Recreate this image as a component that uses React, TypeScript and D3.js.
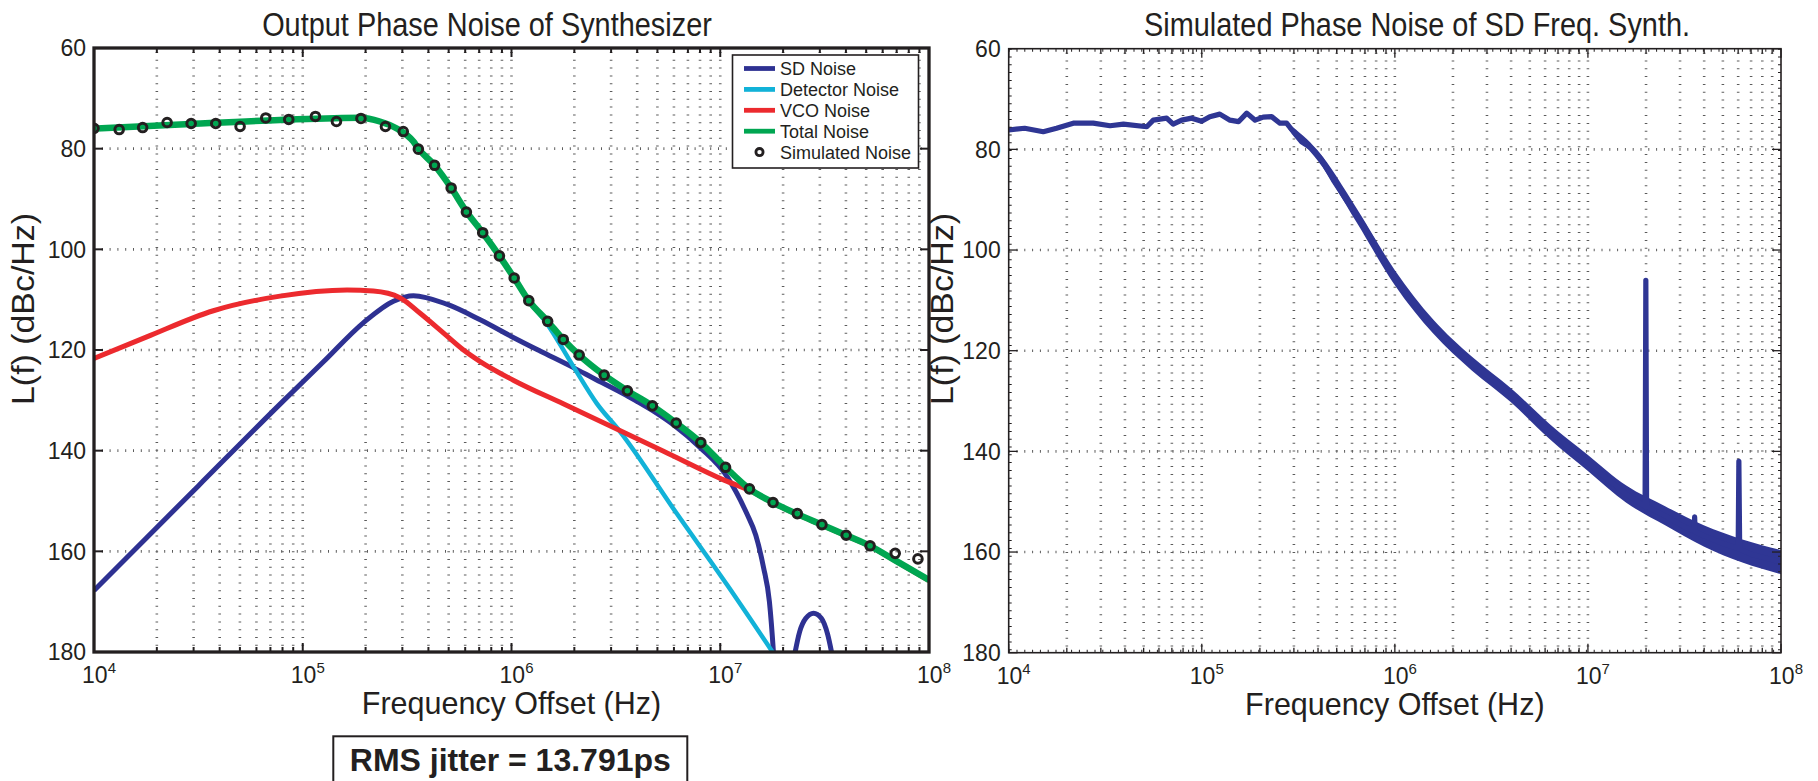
import React from "react";
import * as d3 from "d3";

// ---------- axes ----------
const DECADES = [1e4, 1e5, 1e6, 1e7, 1e8];
const DECADE_EXP = ["4", "5", "6", "7", "8"];
const MINOR_MULT = [2, 3, 4, 5, 6, 7, 8, 9];
const Y_TICKS = [60, 80, 100, 120, 140, 160, 180];

// ---------- left panel: Output Phase Noise of Synthesizer ----------
const totalFreq = [1e4, 2.58e4, 7.78e4, 1.9e5, 2.34e5, 2.82e5, 3.39e5, 3.58e5, 4.28e5, 5.14e5, 6.08e5, 7.28e5, 8.75e5, 1.03e6, 1.21e6, 1.49e6, 1.77e6, 2.11e6, 2.78e6, 3.59e6, 4.73e6, 6.15e6, 8.07e6, 1.06e7, 1.38e7, 1.79e7, 2.34e7, 3.07e7, 4.01e7, 5.22e7, 6.89e7, 1e8];
const totalNoise = [76.0, 75.2, 74.3, 73.85, 74.6, 76.0, 78.6, 80.0, 83.3, 87.8, 92.5, 96.7, 101.3, 105.7, 110.2, 114.3, 117.9, 121.0, 125.0, 128.1, 131.1, 134.5, 138.4, 143.3, 147.6, 150.3, 152.6, 154.7, 156.8, 158.9, 161.8, 165.7];

const detFreq = [1e4, 2.58e4, 7.78e4, 1.9e5, 2.34e5, 2.82e5, 3.39e5, 3.58e5, 4.28e5, 5.14e5, 6.08e5, 7.28e5, 8.75e5, 1.03e6, 1.21e6, 1.47e6, 1.98e6, 2.56e6, 3.31e6, 6.19e6, 1.08e7, 1.8e7];
const detNoise = [76.0, 75.2, 74.3, 73.85, 74.6, 76.0, 78.6, 80.0, 83.3, 87.8, 92.5, 96.7, 101.3, 105.7, 110.2, 114.6, 123.3, 130.6, 136.2, 152.5, 166.7, 180.3];

const vcoFreq = [1e4, 1.79e4, 3.73e4, 7.78e4, 1.63e5, 2.18e5, 2.92e5, 3.65e5, 4.9e5, 5.89e5, 7.08e5, 1.02e6, 1.77e6, 3.08e6, 5.35e6, 1.08e7, 1.4e7, 1.79e7, 2.34e7, 3.07e7, 4.01e7, 5.22e7, 6.89e7, 1e8];
const vcoNoise = [121.7, 117.4, 112.2, 109.3, 108.1, 108.3, 109.6, 112.7, 117.2, 120.0, 122.3, 126.0, 130.7, 135.4, 140.1, 146.1, 148.0, 150.4, 152.7, 154.8, 156.9, 159.0, 161.9, 165.8];

const sdFreq = [1e4, 3.16e4, 7.94e4, 1.26e5, 1.95e5, 2.72e5, 3.39e5, 4.9e5, 7.08e5, 1.02e6, 1.37e6, 1.98e6, 2.47e6, 3.55e6, 4.73e6, 6.03e6, 8.02e6, 1.08e7, 1.34e7, 1.48e7, 1.61e7, 1.72e7, 1.8e7, 1.91e7];
const sdNoise = [167.8, 147.0, 130.4, 122.3, 114.6, 110.3, 109.2, 110.9, 114.0, 117.5, 120.2, 123.5, 125.6, 129.0, 132.0, 135.0, 139.4, 145.2, 152.5, 156.8, 163.1, 170.0, 180.3, 200];
const sdLobeFreq = [2.26e7, 2.4e7, 2.57e7, 2.8e7, 3.05e7, 3.27e7, 3.45e7];
const sdLobeNoise = [181, 176, 173.3, 172.3, 173.3, 176.5, 181];

const simFreq = [1e4, 1.32e4, 1.71e4, 2.24e4, 2.92e4, 3.83e4, 5.01e4, 6.65e4, 8.57e4, 1.15e5, 1.45e5, 1.9e5, 2.49e5, 3.03e5, 3.58e5, 4.28e5, 5.14e5, 6.08e5, 7.28e5, 8.75e5, 1.03e6, 1.21e6, 1.49e6, 1.77e6, 2.11e6, 2.78e6, 3.59e6, 4.73e6, 6.15e6, 8.07e6, 1.06e7, 1.38e7, 1.79e7, 2.34e7, 3.07e7, 4.01e7, 5.22e7, 6.89e7, 8.85e7];
const simNoise = [75.96, 76.2, 75.8, 74.8, 75.0, 75.0, 75.6, 73.9, 74.2, 73.6, 74.6, 74.0, 75.6, 76.6, 80.1, 83.3, 87.8, 92.6, 96.7, 101.3, 105.7, 110.2, 114.3, 117.9, 121.0, 125.0, 128.1, 131.1, 134.5, 138.4, 143.3, 147.6, 150.3, 152.5, 154.7, 156.8, 158.9, 160.4, 161.5];

const legendLabels = ["SD Noise", "Detector Noise", "VCO Noise", "Total Noise", "Simulated Noise"];
const rmsText = "RMS jitter = 13.791ps";

// ---------- right panel: Simulated Phase Noise of SD Freq. Synth. ----------
const traceFreq = [1e4, 1.21e4, 1.51e4, 1.77e4, 2.16e4, 2.74e4, 3.35e4, 3.93e4, 5.19e4, 5.61e4, 6.58e4, 7.11e4, 7.87e4, 8.87e4, 9.98e4, 1.1e5, 1.24e5, 1.4e5, 1.55e5, 1.71e5, 1.89e5, 2.08e5, 2.3e5, 2.54e5, 2.75e5, 2.98e5, 3.29e5, 3.71e5, 4.18e5, 4.8e5, 5.62e5, 6.59e5, 7.73e5, 9.08e5, 1.1e6, 1.35e6, 1.64e6, 2.09e6, 2.55e6, 3.24e6, 4.17e6, 5.62e6, 7.59e6, 1e7, 1.26e7, 1.58e7, 1.95e7, 1.977e7, 1.995e7, 2.013e7, 2.51e7, 3.16e7, 3.55e7, 3.57e7, 3.59e7, 3.98e7, 5.01e7, 6.0e7, 6.05e7, 6.11e7, 7.08e7, 8.91e7, 1e8];
const traceNoise = [76.15, 75.8, 76.5, 75.8, 74.8, 74.8, 75.3, 75.0, 75.5, 74.2, 73.8, 75.0, 74.2, 73.8, 74.4, 73.5, 73.0, 74.2, 74.5, 72.8, 74.2, 73.6, 73.5, 74.8, 74.8, 76.5, 78.5, 79.8, 82.1, 86.1, 90.1, 94.0, 98.3, 103.3, 107.9, 111.9, 115.9, 119.9, 122.8, 125.8, 129.5, 134.5, 138.5, 142.3, 145.5, 148.5, 150.8, 151.0, 106.0, 151.0, 152.8, 155.0, 155.8, 153.0, 155.9, 156.8, 158.3, 159.3, 142.0, 159.4, 160.5, 161.5, 162.0];
const bandFreq = [2.82e5, 3.98e5, 6.31e5, 1e6, 1.58e6, 2.51e6, 3.98e6, 6.31e6, 1e7, 1.58e7, 2.51e7, 3.98e7, 6.31e7, 1e8];
const bandUpper = [74.9, 80.2, 91.6, 104.0, 113.8, 121.2, 127.4, 134.5, 140.7, 146.8, 150.9, 154.7, 157.5, 159.6];
const bandLower = [76.1, 82.2, 94.4, 107.0, 116.6, 124.0, 130.2, 137.5, 143.9, 150.2, 154.7, 158.9, 162.1, 164.4];

// ---------- styling ----------
const INK = "#231f20";
const FONT = "'Liberation Sans', Arial, Helvetica, sans-serif";
const C_SD = "#2e3192";
const C_DET = "#12b2d8";
const C_VCO = "#ec2a2e";
const C_TOT = "#00a651";
const C_TRACE = "#2f3694";

type Box = { x0: number; x1: number; y0: number; y1: number };
const LEFT: Box = { x0: 94, x1: 929, y0: 48, y1: 652 };
const RIGHT: Box = { x0: 1008.7, x1: 1781, y0: 48.7, y1: 652.7 };

type XS = d3.ScaleLogarithmic<number, number>;
type YS = d3.ScaleLinear<number, number>;

const minorFreqs = DECADES.slice(0, -1).flatMap((d) => MINOR_MULT.map((m) => m * d));
const gridFreqs = [...minorFreqs, ...DECADES.slice(1, -1)];

function zip(f: number[], v: number[]) {
  return f.map((ff, i) => [ff, v[i]] as [number, number]);
}

function Panel(props: {
  b: Box;
  id: string;
  frameW: number;
  title: string;
  titleX: number;
  dense: boolean;
  ylabelX: number;
  children: (x: XS, y: YS) => React.ReactNode;
  overlay?: (x: XS, y: YS) => React.ReactNode;
}) {
  const { b, id, frameW, title, dense, ylabelX, titleX } = props;
  const x = d3.scaleLog().domain([1e4, 1e8]).range([b.x0, b.x1]);
  const y = d3.scaleLinear().domain([60, 180]).range([b.y0, b.y1]);
  const cx = (b.x0 + b.x1) / 2;
  return (
    <g>
      <defs>
        <clipPath id={id}>
          <rect x={b.x0} y={b.y0} width={b.x1 - b.x0} height={b.y1 - b.y0} />
        </clipPath>
      </defs>
      <rect x={b.x0} y={b.y0} width={b.x1 - b.x0} height={b.y1 - b.y0} fill="#fff" />
      <g stroke="#5c5c5c" strokeWidth={2.6} strokeDasharray="1 6.8" fill="none">
        {gridFreqs.map((f) => (
          <line key={"v" + f} x1={x(f)} x2={x(f)} y1={b.y0 + 4} y2={b.y1} />
        ))}
        {Y_TICKS.slice(1, -1).map((v) => (
          <line key={"h" + v} x1={b.x0} x2={b.x1} y1={y(v)} y2={y(v)} />
        ))}
      </g>
      <g clipPath={`url(#${id})`}>{props.children(x, y)}</g>
      {/* ticks */}
      <g stroke={INK} strokeWidth={dense ? 1.3 : 2}>
        {DECADES.map((f) => (
          <g key={"M" + f}>
            <line x1={x(f)} x2={x(f)} y1={b.y1} y2={b.y1 - 9} />
            <line x1={x(f)} x2={x(f)} y1={b.y0} y2={b.y0 + 9} />
          </g>
        ))}
        {minorFreqs.map((f) => (
          <g key={"m" + f}>
            <line x1={x(f)} x2={x(f)} y1={b.y1} y2={b.y1 - 5} />
            <line x1={x(f)} x2={x(f)} y1={b.y0} y2={b.y0 + 5} />
          </g>
        ))}
        {Y_TICKS.map((v) => (
          <g key={"y" + v}>
            <line x1={b.x0} x2={b.x0 + 9} y1={y(v)} y2={y(v)} />
            <line x1={b.x1} x2={b.x1 - 9} y1={y(v)} y2={y(v)} />
          </g>
        ))}
      </g>
      {dense && (
        <g stroke={INK} strokeWidth={3} strokeDasharray="1 6.8" fill="none">
          <line x1={b.x0} x2={b.x1} y1={b.y1 - 1.5} y2={b.y1 - 1.5} />
          <line x1={b.x0} x2={b.x1} y1={b.y0 + 1.5} y2={b.y0 + 1.5} />
          <line x1={b.x0 + 1.5} x2={b.x0 + 1.5} y1={b.y0} y2={b.y1} />
          <line x1={b.x1 - 1.5} x2={b.x1 - 1.5} y1={b.y0} y2={b.y1} />
        </g>
      )}
      <rect x={b.x0} y={b.y0} width={b.x1 - b.x0} height={b.y1 - b.y0} fill="none" stroke={INK} strokeWidth={frameW} />
      {/* tick labels */}
      <g fontFamily={FONT} fill={INK}>
        {Y_TICKS.map((v) => (
          <text key={"t" + v} x={b.x0 - 8} y={y(v)} dy="0.36em" textAnchor="end" fontSize={23}>
            {v}
          </text>
        ))}
        {DECADES.map((f, i) => (
          <text key={"x" + f} x={x(f) + 5} y={b.y1 + 31} textAnchor="middle" fontSize={23}>
            10
            <tspan dy={-10} fontSize={15}>
              {DECADE_EXP[i]}
            </tspan>
          </text>
        ))}
        <text x={cx} y={b.y1 + 62} textAnchor="middle" fontSize={30.5}>
          Frequency Offset (Hz)
        </text>
        <text
          transform={`translate(${ylabelX},309) rotate(-90)`}
          textAnchor="middle"
          fontSize={32}
          textLength={192}
          lengthAdjust="spacingAndGlyphs"
        >
          L(f) (dBc/Hz)
        </text>
        <text transform={`translate(${titleX},36) scale(0.85,1)`} textAnchor="middle" fontSize={34}>
          {title}
        </text>
      </g>
      {props.overlay && props.overlay(x, y)}
    </g>
  );
}

function lineFor(x: XS, y: YS, curve: d3.CurveFactory = d3.curveMonotoneX) {
  return d3
    .line<[number, number]>()
    .x((d) => x(d[0]))
    .y((d) => y(d[1]))
    .curve(curve);
}

export default function App() {
  const legendColors = [C_SD, C_DET, C_VCO, C_TOT];
  return (
    <svg
      width={1818}
      height={781}
      viewBox="0 0 1818 781"
      style={{ position: "absolute", left: 0, top: 0, display: "block", background: "#fff" }}
    >
      <rect x={0} y={0} width={1818} height={781} fill="#fff" />
      <Panel
        b={LEFT}
        id="clipL"
        frameW={3.3}
        title="Output Phase Noise of Synthesizer"
        titleX={487}
        dense={false}
        ylabelX={34}
        overlay={() => (
          <g fontFamily={FONT} fill={INK}>
            <rect x={732.5} y={55} width={186} height={113} fill="#fff" stroke={INK} strokeWidth={1.6} />
            {legendLabels.map((lab, i) => {
              const yy = 68.5 + i * 20.9;
              return (
                <g key={lab}>
                  {i < 4 ? (
                    <line x1={744} x2={775} y1={yy} y2={yy} stroke={legendColors[i]} strokeWidth={4.8} />
                  ) : (
                    <circle cx={759.5} cy={yy} r={3.6} fill="none" stroke={INK} strokeWidth={2.8} />
                  )}
                  <text x={780} y={yy} dy="0.36em" fontSize={18}>
                    {lab}
                  </text>
                </g>
              );
            })}
            <rect x={333.3} y={736.3} width={354} height={60} fill="#fff" stroke={INK} strokeWidth={2} />
            <text x={510.3} y={771} textAnchor="middle" fontSize={32} fontWeight="bold">
              {rmsText}
            </text>
          </g>
        )}
      >
        {(x, y) => {
          const ln = lineFor(x, y);
          return (
            <g fill="none" strokeLinejoin="round">
              <path d={ln(zip(sdFreq, sdNoise)) || ""} stroke={C_SD} strokeWidth={5} />
              <path d={ln(zip(sdLobeFreq, sdLobeNoise)) || ""} stroke={C_SD} strokeWidth={5} />
              <path d={ln(zip(detFreq, detNoise)) || ""} stroke={C_DET} strokeWidth={4.5} />
              <path d={ln(zip(vcoFreq, vcoNoise)) || ""} stroke={C_VCO} strokeWidth={5} />
              <path d={ln(zip(totalFreq, totalNoise)) || ""} stroke={C_TOT} strokeWidth={6.5} />
              {simFreq.map((f, i) => (
                <circle key={f} cx={x(f)} cy={y(simNoise[i])} r={4.3} stroke={INK} strokeWidth={3} fill="none" />
              ))}
            </g>
          );
        }}
      </Panel>
      <Panel
        b={RIGHT}
        id="clipR"
        frameW={1.6}
        title="Simulated Phase Noise of SD Freq. Synth."
        titleX={1417}
        dense={true}
        ylabelX={953}
      >
        {(x, y) => {
          const ln = lineFor(x, y, d3.curveLinear);
          const band = d3
            .area<number>()
            .x((_, i) => x(bandFreq[i]))
            .y0((_, i) => y(bandLower[i]))
            .y1((_, i) => y(bandUpper[i]))
            .curve(d3.curveMonotoneX);
          return (
            <g>
              <path d={band(bandFreq) || ""} fill={C_TRACE} />
              <path
                d={ln(zip(traceFreq, traceNoise)) || ""}
                fill="none"
                stroke={C_TRACE}
                strokeWidth={5.2}
                strokeLinejoin="round"
              />
            </g>
          );
        }}
      </Panel>
    </svg>
  );
}
